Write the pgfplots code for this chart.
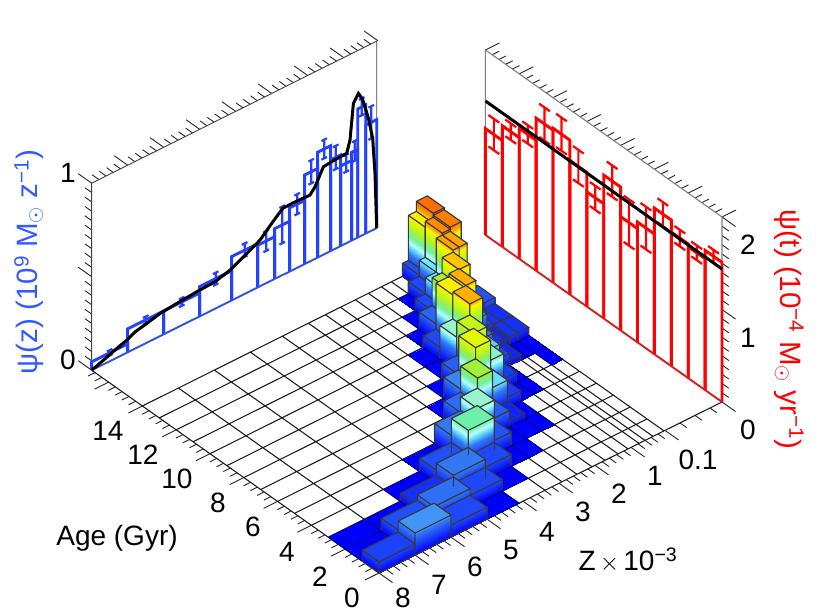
\documentclass[border=0pt]{standalone}
\usepackage{fontspec}
\setmainfont{Liberation Sans}
\usepackage{pgfplots}
\usepackage{pgfplotstable}
\pgfplotsset{compat=1.18}
\usepgfplotslibrary{patchplots}

\definecolor{psiblue}{RGB}{35,65,255}
\definecolor{baseblue}{RGB}{50,80,225}
\definecolor{psired}{RGB}{255,0,0}
\definecolor{basered}{RGB}{215,30,30}
\definecolor{labelblue}{RGB}{50,90,255}

% bin edges along the metallicity axis, in axis units
\def\zedges{{0,36,72,108,140,166,183,198,213,226,239,249,260,266,274,285}}
\newcommand\zedge[2]{\pgfmathsetmacro#1{\zedges[#2]}}

% black curve on the left wall
\pgfplotstableread{
wall ypos psi
17 0 0
17 11.7 .022
17 25 .049
17 35 .067
17 43.3 .089
17 55 .103
17 68.3 .121
17 85 .130
17 106.7 .140
17 123.3 .144
17 138.3 .166
17 155 .21
17 168.3 .247
17 180 .305
17 191 .356
17 201.7 .358
17 218.3 .354
17 223.3 .385
17 231.7 .470
17 241.7 .476
17 255 .48
17 258.3 .542
17 261.7 .729
17 266.7 .769
17 271 .725
17 276.7 .609
17 281 .49
17 283.3 .297
17 285 0
}\psicurve

% one column: age bin, metallicity bin, height
\newcommand\cell[3]{%
  \zedge\ya{#2}\pgfmathsetmacro\yb{\zedges[#2+1]}\pgfmathsetmacro\ab{#1+1}%
  \ifdim#3pt>0pt
    \edef\next{\noexpand\addplot3[barface] coordinates {
      (\ab,\ya,#3)(\ab,\yb,#3)(#1,\yb,#3)(#1,\ya,#3)
      (#1,\ya,0)(#1,\yb,0)(#1,\yb,#3)(#1,\ya,#3)
      (#1,\ya,0)(\ab,\ya,0)(\ab,\ya,#3)(#1,\ya,#3)};}\next
    \edef\next{\noexpand\addplot3[baredge] coordinates {
      (\ab,\ya,#3)(\ab,\yb,#3)(#1,\yb,#3)(#1,\ya,#3)(\ab,\ya,#3)(nan,nan,nan)
      (\ab,\ya,#3)(\ab,\ya,0)(#1,\ya,0)(#1,\ya,#3)(nan,nan,nan)
      (#1,\ya,0)(#1,\yb,0)(#1,\yb,#3)};}\next
  \else
    \edef\next{\noexpand\addplot3[barface] coordinates {
      (\ab,\ya,0)(\ab,\yb,0)(#1,\yb,0)(#1,\ya,0)};}\next
    \edef\next{\noexpand\addplot3[flatedge] coordinates {
      (\ab,\ya,0)(\ab,\yb,0)(#1,\yb,0)(#1,\ya,0)(\ab,\ya,0)};}\next
  \fi}

% histogram bar and error bar on the left wall: bin, value, error
\newcommand\bluebar[3]{%
  \zedge\ya{#1}\pgfmathsetmacro\yb{\zedges[#1+1]}%
  \pgfmathsetmacro\zv{#2*187}\pgfmathsetmacro\ym{(\ya+\yb)/2}%
  \pgfmathsetmacro\zl{(#2-#3)*187}\pgfmathsetmacro\zh{(#2+#3)*187}%
  \pgfmathsetmacro\cl{\ym-2.8}\pgfmathsetmacro\ch{\ym+2.8}%
  \edef\next{\noexpand\addplot3[bluehist] coordinates {
    (17,\ya,0)(17,\ya,\zv)(17,\yb,\zv)(17,\yb,0)};}\next
  \edef\next{\noexpand\addplot3[blueerr] coordinates {
    (17,\cl,\zl)(17,\ch,\zl)(nan,nan,nan)(17,\ym,\zl)(17,\ym,\zh)(nan,nan,nan)(17,\cl,\zh)(17,\ch,\zh)};}\next}

% same on the right wall: age bin, value, error
\newcommand\redbar[3]{%
  \pgfmathsetmacro\ab{#1+1}\pgfmathsetmacro\am{#1+.5}%
  \pgfmathsetmacro\zv{#2*92.5}%
  \pgfmathsetmacro\zl{(#2-#3)*92.5}\pgfmathsetmacro\zh{(#2+#3)*92.5}%
  \pgfmathsetmacro\cl{\am-.32}\pgfmathsetmacro\ch{\am+.32}%
  \edef\next{\noexpand\addplot3[redhist] coordinates {
    (\ab,343,0)(\ab,343,\zv)(#1,343,\zv)(#1,343,0)};}\next
  \edef\next{\noexpand\addplot3[rederr] coordinates {
    (\cl,343,\zl)(\ch,343,\zl)(nan,nan,nan)(\am,343,\zl)(\am,343,\zh)(nan,nan,nan)(\cl,343,\zh)(\ch,343,\zh)};}\next}

% tick lists
\def\seglist{}
\newcommand\addseg[6]{\xdef\seglist{\seglist (#1,#2,#3)(#4,#5,#6)(nan,nan,nan)}}
\foreach \i in {0,...,42}{%
  \pgfmathsetmacro\a{\i*.4}%
  \pgfmathtruncatemacro\m{mod(\i,5)==0}%
  \pgfmathsetmacro\l{\m==1 ? 14 : 7}%
  \pgfmathsetmacro\y{-\l}\addseg{\a}{0}{0}{\a}{\y}{0}%
  \ifnum\i<36
    \pgfmathsetmacro\yy{343+\l}\addseg{\a}{343}{185}{\a}{\yy}{185}%
  \fi}
\foreach \i in {0,...,35}{%
  \pgfmathsetmacro\y{\i*7.2}%
  \pgfmathtruncatemacro\m{mod(\i,5)==0}%
  \pgfmathsetmacro\l{\m==1 ? .8 : .4}%
  \pgfmathsetmacro\an{-\l}\pgfmathsetmacro\at{17+\l}%
  \addseg{0}{\y}{0}{\an}{\y}{0}\addseg{17}{\y}{187}{\at}{\y}{187}}
\foreach \y/\l in {259/.4,266/.4,272/.4,279/.4,286/.8,301/.4,316/.4,331/.4}{%
  \pgfmathsetmacro\an{-\l}\pgfmathsetmacro\at{17+\l}%
  \addseg{0}{\y}{0}{\an}{\y}{0}%
  \ifnum\y<287 \addseg{17}{\y}{187}{\at}{\y}{187}\fi}
\foreach \i in {0,...,20}{%
  \pgfmathsetmacro\zb{\i*9.35}\pgfmathsetmacro\zr{\i*9.25}%
  \pgfmathtruncatemacro\m{mod(\i,10)==0}%
  \pgfmathsetmacro\l{\m==1 ? .8 : .4}%
  \pgfmathsetmacro\at{17+\l}\pgfmathsetmacro\an{-\l}%
  \addseg{17}{0}{\zb}{\at}{0}{\zb}\addseg{0}{343}{\zr}{\an}{343}{\zr}}
% floor grid
\def\gridlist{}
\newcommand\addgrid[6]{\xdef\gridlist{\gridlist (#1,#2,#3)(#4,#5,#6)(nan,nan,nan)}}
\foreach \a in {1,...,14}{\addgrid{\a}{0}{0}{\a}{285}{0}}
\foreach \y in {36,72,108,140,166,183,198,213,226,239,249,260,266,274,285}{\addgrid{0}{\y}{0}{14}{\y}{0}}

\begin{document}
\begin{tikzpicture}
\path[use as bounding box] (0pt,0pt) rectangle (830pt,-613pt);
\begin{axis}[
  at={(379pt,-573pt)},anchor=origin,
  x={(-16.9pt,11.93pt)},y={(1pt,0.4986pt)},z={(0pt,1pt)},
  xmin=0,xmax=17,ymin=0,ymax=343,zmin=0,zmax=187,
  hide axis,clip=false,
  colormap={histmap}{rgb255(0)=(0,0,255) rgb255(20)=(50,120,245) rgb255(28)=(110,235,255)
    rgb255(31)=(190,250,245) rgb255(37)=(110,240,170) rgb255(44)=(160,240,60)
    rgb255(55)=(225,250,0) rgb255(58)=(255,240,0) rgb255(61)=(255,175,0)
    rgb255(64)=(255,140,0) rgb255(68)=(255,110,0) rgb255(72)=(255,90,0)},
  point meta min=0,point meta max=72,
  barface/.style={patch,patch type=rectangle,shader=interp,point meta=z,forget plot},
  baredge/.style={no markers,draw=black!78,line width=1.15pt,forget plot},
  flatedge/.style={no markers,draw=black!55!blue,line width=.7pt,forget plot},
  bluehist/.style={no markers,draw=psiblue,line width=2.9pt,line cap=butt},
  blueerr/.style={no markers,draw=psiblue,line width=2.2pt},
  redhist/.style={no markers,draw=psired,line width=2.9pt,line cap=butt},
  rederr/.style={no markers,draw=psired,line width=2.2pt},
  unbounded coords=jump,
  every axis plot/.append style={forget plot},
]
% floor and axes
\edef\next{\noexpand\addplot3[no markers,draw=black!90,line width=1.05pt] coordinates {\gridlist};}\next
\edef\next{\noexpand\addplot3[no markers,draw=black!85,line width=.9pt] coordinates {\seglist};}\next
\addplot3[no markers,draw=black!90,line width=1.05pt] coordinates {(17,0,0)(0,0,0)(0,343,0)};
\addplot3[no markers,draw=black!75,line width=.9pt] coordinates {(17,0,0)(17,0,187)(17,285,187)(17,285,0)};
\addplot3[no markers,draw=black!50,line width=1.1pt] coordinates {(14,343,0)(14,343,185)(0,343,185)(0,343,0)};

% left wall
\bluebar{0}{.045}{.014}
\bluebar{1}{.125}{.018}
\bluebar{2}{.125}{.021}
\bluebar{3}{.159}{.032}
\bluebar{4}{.234}{.036}
\bluebar{5}{.226}{.053}
\bluebar{6}{.269}{.098}
\bluebar{7}{.340}{.053}
\bluebar{8}{.476}{.062}
\bluebar{9}{.563}{.050}
\bluebar{10}{.487}{.062}
\bluebar{11}{.428}{.045}
\bluebar{12}{.472}{.053}
\bluebar{13}{.688}{.045}
\bluebar{14}{.580}{.086}
\addplot3[no markers,draw=baseblue,line width=1.9pt] coordinates {(17,0,0)(17,285,0)};
\addplot3[no markers,draw=black,line width=3pt] table[x=wall,y=ypos,z expr=\thisrow{psi}*187] {\psicurve};

% right wall
\redbar{13}{1.15}{.17}
\redbar{12}{1.31}{.09}
\redbar{11}{1.41}{.10}
\redbar{10}{1.65}{.18}
\redbar{9}{1.67}{.18}
\redbar{8}{1.45}{.18}
\redbar{7}{1.24}{.13}
\redbar{6}{1.55}{.17}
\redbar{5}{1.23}{.25}
\redbar{4}{1.30}{.23}
\redbar{3}{1.58}{.13}
\redbar{2}{1.45}{.09}
\redbar{1}{1.42}{.08}
\redbar{0}{1.51}{.07}
\addplot3[no markers,draw=basered,line width=1.9pt] coordinates {(14,343,0)(0,343,0)};
\addplot3[no markers,draw=black,line width=3pt] coordinates {(14,343,134)(0,343,133)};

% columns, back to front
\cell{13}{14}{68}
\cell{13}{13}{58}
\cell{13}{12}{13}
\cell{12}{14}{66}
\cell{12}{13}{64}
\cell{12}{12}{28}
\cell{12}{11}{12}
\cell{12}{10}{0}
\cell{11}{14}{13}
\cell{11}{13}{62}
\cell{11}{12}{62}
\cell{11}{11}{28}
\cell{11}{10}{12}
\cell{11}{9}{0}
\cell{10}{14}{14}
\cell{10}{13}{14}
\cell{10}{12}{30}
\cell{10}{11}{60}
\cell{10}{10}{45}
\cell{10}{9}{17}
\cell{10}{8}{0}
\cell{9}{14}{8}
\cell{9}{13}{8}
\cell{9}{12}{10}
\cell{9}{11}{22}
\cell{9}{10}{61}
\cell{9}{9}{58}
\cell{9}{8}{12}
\cell{9}{7}{0}
\cell{8}{14}{8}
\cell{8}{13}{8}
\cell{8}{12}{6}
\cell{8}{11}{8}
\cell{8}{10}{20}
\cell{8}{9}{61}
\cell{8}{8}{34}
\cell{8}{7}{0}
\cell{7}{14}{0}
\cell{7}{13}{0}
\cell{7}{12}{0}
\cell{7}{11}{6}
\cell{7}{10}{12}
\cell{7}{9}{26}
\cell{7}{8}{50}
\cell{7}{7}{16}
\cell{7}{6}{0}
\cell{6}{14}{0}
\cell{6}{10}{0}
\cell{6}{9}{10}
\cell{6}{8}{35}
\cell{6}{7}{55}
\cell{6}{6}{21}
\cell{6}{5}{0}
\cell{5}{10}{0}
\cell{5}{9}{0}
\cell{5}{8}{10}
\cell{5}{7}{27}
\cell{5}{6}{44}
\cell{5}{5}{18}
\cell{4}{8}{0}
\cell{4}{7}{6}
\cell{4}{6}{16}
\cell{4}{5}{34}
\cell{4}{4}{20}
\cell{4}{3}{0}
\cell{3}{8}{0}
\cell{3}{7}{0}
\cell{3}{6}{0}
\cell{3}{5}{14}
\cell{3}{4}{37}
\cell{3}{3}{13}
\cell{3}{2}{0}
\cell{2}{6}{0}
\cell{2}{5}{0}
\cell{2}{4}{12}
\cell{2}{3}{20}
\cell{2}{2}{8}
\cell{2}{1}{0}
\cell{2}{0}{0}
\cell{1}{4}{0}
\cell{1}{3}{12}
\cell{1}{2}{18.5}
\cell{1}{1}{13}
\cell{1}{0}{0}
\cell{0}{3}{0}
\cell{0}{2}{12}
\cell{0}{1}{22}
\cell{0}{0}{11}
% edges that show through the nearer columns
\addplot3[baredge] coordinates {(2,108,20)(2,108,8)(nan,nan,nan)(2,140,12)(2,140,0)(nan,nan,nan)
  (3,140,37)(3,140,12)(nan,nan,nan)(3,166,37)(3,166,4)(nan,nan,nan)(4,140,22)(4,140,2)};
\end{axis}
\begin{scope}[x=1pt,y=-1pt,every node/.style={font=\fontsize{28}{30}\selectfont,inner sep=0pt}]
\foreach \t/\px/\py in {0/352/598,2/320/577,4/287/552,6/253/527,8/218/503,10/177/479,12/143/455,14/108/431,
  8/403/598,7/439/585,6/475/567,5/511/550,4/547/532,3/583/512,2/619/494,1/655/476,0.1/698/460,
  1/68/173,0/68/360,2/748/245,1/748/338,0/748/430}
  \node at (\px,\py) {\t};
\node at (117,538) {Age (Gyr)};
\node at (628,560) {Z$\,\times\,$10\textsuperscript{−3}};
\node[rotate=90,text=labelblue,font=\fontsize{29.5}{31}\selectfont] at (29,262) {ψ(z) (10\textsuperscript{9} M$_{\odot}$ z\textsuperscript{−1})};
\node[rotate=-90,text=psired,font=\fontsize{29.5}{31}\selectfont] at (789,329) {ψ(t) (10\textsuperscript{−4} M$_{\odot}$ yr\textsuperscript{−1})};
\end{scope}
\end{tikzpicture}
\end{document}
